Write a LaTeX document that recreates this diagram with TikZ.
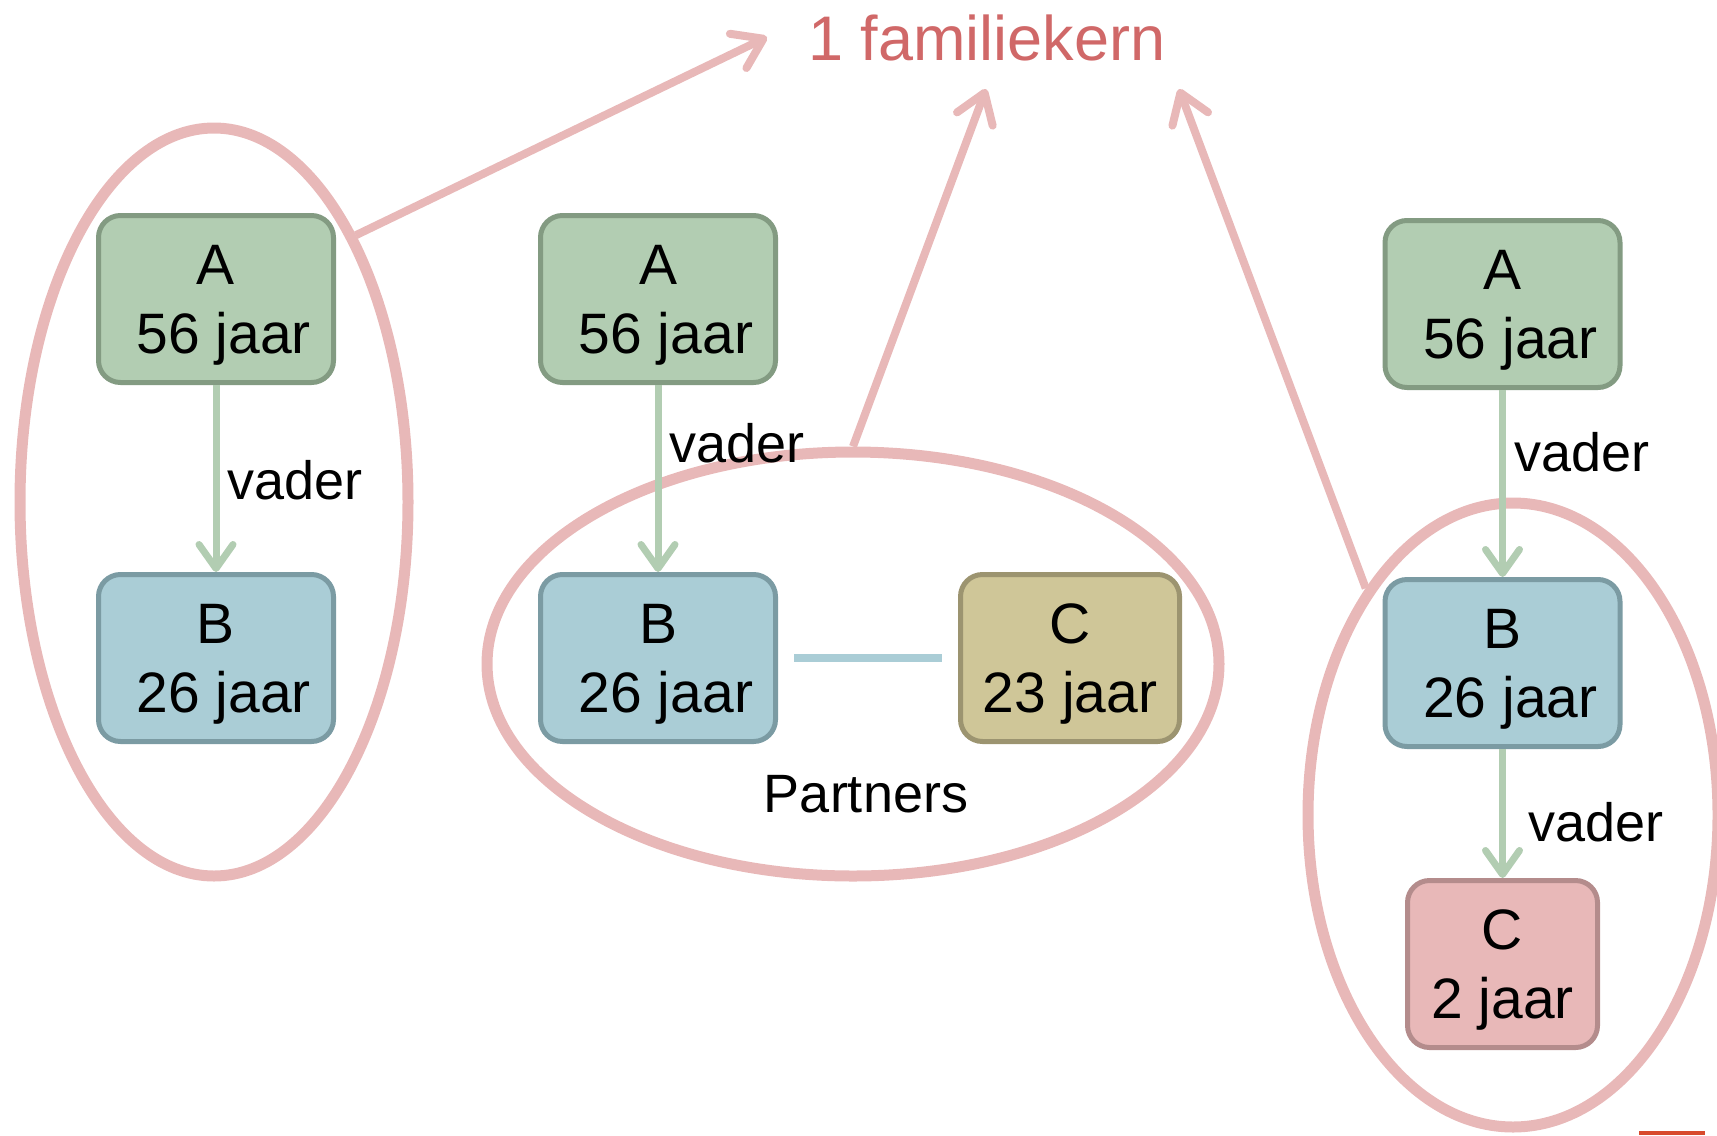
\documentclass[tikz,border=0pt]{standalone}
\usepackage{fontspec}
\setmainfont{Liberation Sans}
\usetikzlibrary{shapes.geometric}
\usetikzlibrary{arrows.meta}
\usetikzlibrary{positioning}

\definecolor{kernrood}{HTML}{D06868}
\definecolor{roze}{HTML}{E8B8B8}
\definecolor{groen}{HTML}{B2CDB2}
\definecolor{groenrand}{HTML}{839B82}
\definecolor{blauw}{HTML}{AACDD6}
\definecolor{blauwrand}{HTML}{7B9BA3}
\definecolor{kaki}{HTML}{CFC698}
\definecolor{kakirand}{HTML}{9C9470}
\definecolor{rozerand}{HTML}{B48C8C}
\definecolor{balk}{HTML}{D84A2C}

\newcommand{\voorspatie}{\hspace*{0.278em}}

\begin{document}
\begin{tikzpicture}[x=0.5pt,y=-0.5pt,
  persoon/.style={rectangle, rounded corners=11pt, line width=2.5pt,
    minimum width=117.5pt, minimum height=83.5pt, inner sep=0pt,
    align=center, text depth=0pt, font=\fontsize{28.5}{34.5}\selectfont},
  kern/.style={ellipse, draw=roze, line width=5.5pt, inner sep=0pt},
  vaderpijl/.style={draw=groen, line width=3.5pt,
    -{Straight Barb[length=12pt,width=17pt,round]}},
  kernpijl/.style={draw=roze, line width=4pt,
    -{Straight Barb[length=14pt,width=19pt,round]}},
  partner/.style={draw=blauw, line width=4pt, shorten <=8pt, shorten >=8pt},
  lbl/.style={font=\fontsize{27}{34}\selectfont, inner sep=0pt}]
\useasboundingbox (0,0) rectangle (1717,1135);

\node[kern, minimum width=194pt, minimum height=374pt] (e1) at (214,502) {};
\node[kern, minimum width=366pt, minimum height=212pt] (e2) at (853,664) {};
\node[kern, minimum width=205pt, minimum height=312pt] (e3) at (1513,815) {};

\node[persoon, fill=groen, draw=groenrand] (a1) at (216,299) {A\\\voorspatie 56 jaar};
\node[persoon, fill=blauw, draw=blauwrand, below=93.5pt of a1] (b1) {B\\\voorspatie 26 jaar};

\node[persoon, fill=groen, draw=groenrand] (a2) at (658,299) {A\\\voorspatie 56 jaar};
\node[persoon, fill=blauw, draw=blauwrand, below=93.5pt of a2] (b2) {B\\\voorspatie 26 jaar};
\node[persoon, fill=kaki, draw=kakirand, minimum width=109.5pt, right=90pt of b2] (c2) {C\\23 jaar};
\node[lbl] (p2) at (866,794) {Partners};

\node[persoon, fill=groen, draw=groenrand] (a3) at (1502.5,304) {A\\\voorspatie 56 jaar};
\node[persoon, fill=blauw, draw=blauwrand, below=93.5pt of a3] (b3) {B\\\voorspatie 26 jaar};
\node[persoon, fill=roze, draw=rozerand, minimum width=95pt, below=64.5pt of b3] (c3) {C\\2 jaar};

\draw[vaderpijl] (a1) -- node[lbl, right=4pt, pos=0.51] {vader} (b1);
\draw[vaderpijl] (a2) -- node[lbl, right=4pt, pos=0.31] {vader} (b2);
\draw[vaderpijl] (a3) -- node[lbl, right=4pt, pos=0.33] {vader} (b3);
\draw[vaderpijl] (b3) -- node[lbl, right=11pt, pos=0.57] {vader} (c3);
\draw[partner] (b2) -- (c2);

\node[font=\fontsize{31.5}{38}\selectfont, text=kernrood, inner sep=0pt] (kern) at (987,38) {1 familiekern};
\coordinate (t1) at (767,37);
\coordinate (t2) at (986,89);
\coordinate (t3) at (1179,89);
\draw[kernpijl] (e1.62.5) -- (t1);
\draw[kernpijl] (e2.north) -- (t2);
\draw[kernpijl] (e3.123.3) -- (t3);

\fill[balk] (1639,1131) rectangle (1705,1135);
\end{tikzpicture}
\end{document}
